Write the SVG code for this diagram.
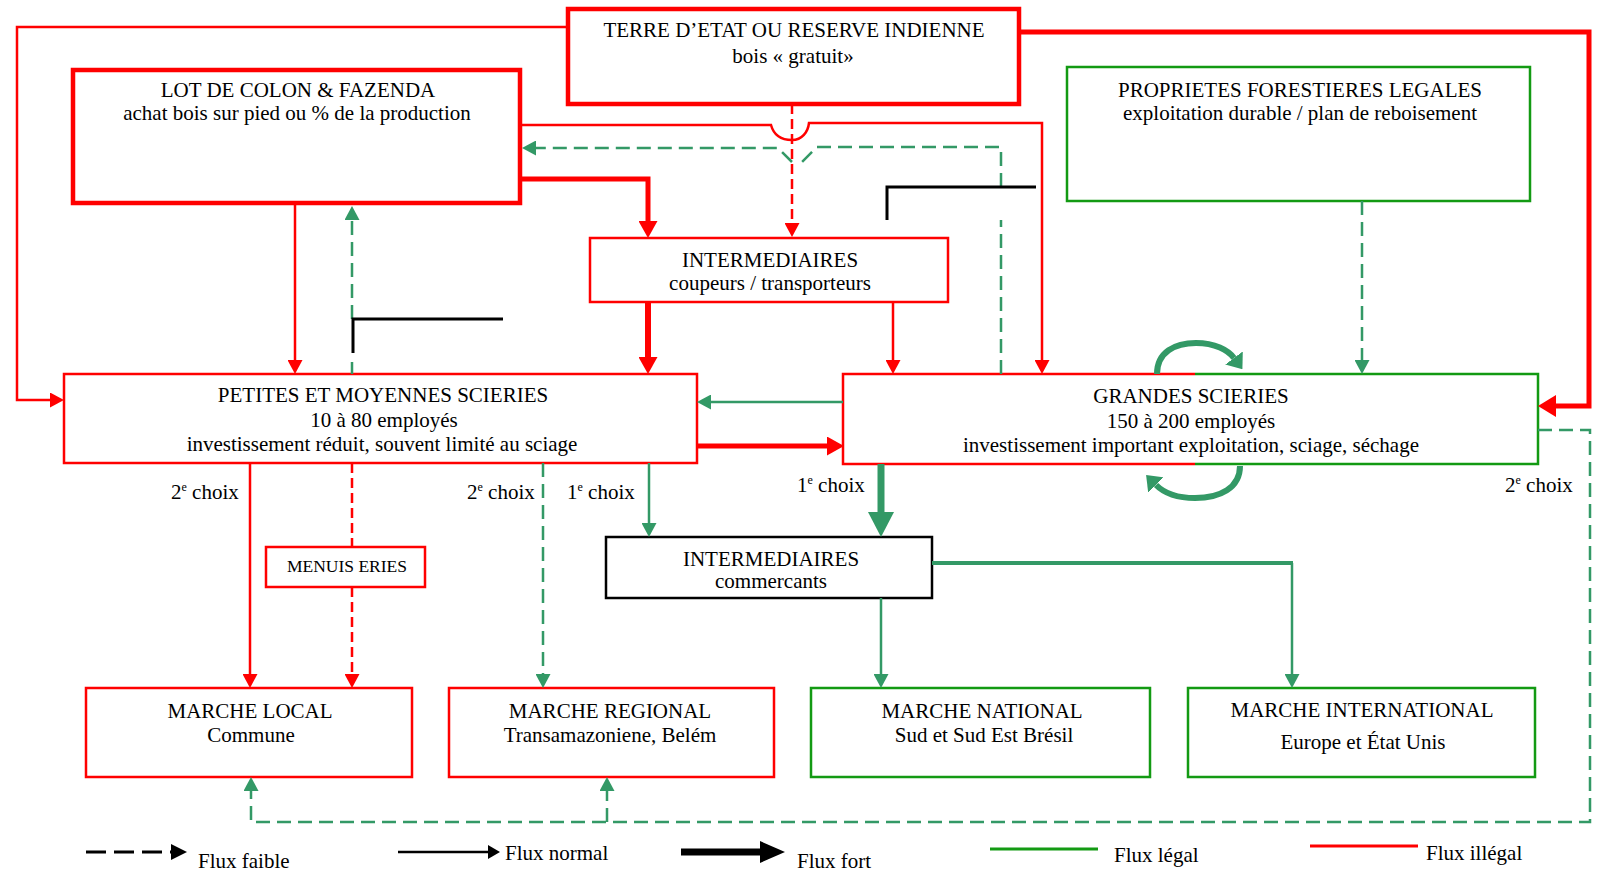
<svg xmlns="http://www.w3.org/2000/svg" width="1600" height="874" viewBox="0 0 1600 874">
<style>
text{font-family:"Liberation Serif","Times New Roman",serif;font-size:21px;fill:#000;text-anchor:middle}
.lft{text-anchor:start}
.box{fill:#fff}
.rb{stroke:#f00;stroke-width:2.5;fill:#fff}
.rbT{stroke:#f00;stroke-width:4.5;fill:#fff}
.gb{stroke:#139a13;stroke-width:2.5;fill:#fff}
.kb{stroke:#000;stroke-width:2.5;fill:#fff}
.c{fill:none}
.r{stroke:#f00;stroke-width:2.5}
.rT{stroke:#f00;stroke-width:5}
.g{stroke:#339966;stroke-width:2.5}
.gT{stroke:#339966;stroke-width:6}
.dr{stroke-dasharray:10,5}
.dg{stroke-dasharray:14,7}
.k{stroke:#000;stroke-width:2.5}
.sup{font-size:12px}
</style>
<defs>
<marker id="ar" viewBox="0 0 14 15" refX="0" refY="7.5" markerWidth="14" markerHeight="15" markerUnits="userSpaceOnUse" orient="auto"><path d="M0,0L14,7.5L0,15z" fill="#f00"/></marker>
<marker id="arT" viewBox="0 0 17 19" refX="0" refY="9.5" markerWidth="17" markerHeight="19" markerUnits="userSpaceOnUse" orient="auto"><path d="M0,0L17,9.5L0,19z" fill="#f00"/></marker>
<marker id="arB" viewBox="0 0 18 22" refX="0" refY="11" markerWidth="18" markerHeight="22" markerUnits="userSpaceOnUse" orient="auto"><path d="M0,0L18,11L0,22z" fill="#f00"/></marker>
<marker id="ag" viewBox="0 0 14 15" refX="0" refY="7.5" markerWidth="14" markerHeight="15" markerUnits="userSpaceOnUse" orient="auto"><path d="M0,0L14,7.5L0,15z" fill="#339966"/></marker>
<marker id="agT" viewBox="0 0 25 26" refX="0" refY="13" markerWidth="25" markerHeight="26" markerUnits="userSpaceOnUse" orient="auto"><path d="M0,0L25,13L0,26z" fill="#339966"/></marker>
<marker id="agL" viewBox="0 0 14 22" refX="0" refY="11" markerWidth="14" markerHeight="22" markerUnits="userSpaceOnUse" orient="auto"><path d="M0,0L14,11L0,22z" fill="#339966"/></marker>
<marker id="ak" viewBox="0 0 12 14" refX="0" refY="7" markerWidth="12" markerHeight="14" markerUnits="userSpaceOnUse" orient="auto"><path d="M0,0L12,7L0,14z" fill="#000"/></marker>
<marker id="akD" viewBox="0 0 16 16" refX="0" refY="8" markerWidth="16" markerHeight="16" markerUnits="userSpaceOnUse" orient="auto"><path d="M0,0L16,8L0,16z" fill="#000"/></marker>
<marker id="akT" viewBox="0 0 25 22" refX="0" refY="11" markerWidth="25" markerHeight="22" markerUnits="userSpaceOnUse" orient="auto"><path d="M0,0L25,11L0,22z" fill="#000"/></marker>
</defs>
<rect width="1600" height="874" fill="#fff"/>

<g id="terre">
<rect class="rbT" x="568" y="9" width="451" height="95"/>
<text x="794" y="37">TERRE D’ETAT OU RESERVE INDIENNE</text>
<text x="793" y="63">bois «  gratuit»</text>
</g>
<g id="lot">
<rect class="rbT" x="73" y="70" width="447" height="133"/>
<text x="298" y="97">LOT DE COLON &amp; FAZENDA</text>
<text x="297" y="120">achat bois sur pied ou % de la production</text>
</g>
<g id="proprietes">
<rect class="gb" x="1067" y="67" width="463" height="134"/>
<text x="1300" y="97">PROPRIETES FORESTIERES LEGALES</text>
<text x="1300" y="120">exploitation durable / plan de reboisement</text>
</g>
<g id="inter-coupeurs">
<rect class="rb" x="590" y="238" width="358" height="64"/>
<text x="770" y="267">INTERMEDIAIRES</text>
<text x="770" y="290">coupeurs / transporteurs</text>
</g>
<g id="petites">
<rect class="rb" x="64" y="374" width="633" height="89"/>
<text x="383" y="402">PETITES ET MOYENNES SCIERIES</text>
<text x="384" y="427">10 à 80 employés</text>
<text x="382" y="451">investissement réduit, souvent limité au sciage</text>
</g>
<g id="grandes">
<rect class="box" x="843" y="374" width="695" height="90"/>
<path class="c" d="M1195,374H843V464H1195" stroke="#f00" stroke-width="2.5"/>
<path class="c" d="M1195,374H1538V464H1195" stroke="#139a13" stroke-width="2.5"/>
<text x="1191" y="403">GRANDES SCIERIES</text>
<text x="1191" y="428">150 à 200 employés</text>
<text x="1191" y="452">investissement important exploitation, sciage, séchage</text>
</g>
<g id="inter-commercants">
<rect class="kb" x="606" y="537" width="326" height="61"/>
<text x="771" y="566">INTERMEDIAIRES</text>
<text x="771" y="588">commercants</text>
</g>
<g id="menuiseries">
<rect class="rb" x="266" y="547" width="159" height="40"/>
<text x="347" y="572" style="font-size:17.5px">MENUIS ERIES</text>
</g>
<g id="marche-local">
<rect class="rb" x="86" y="688" width="326" height="89"/>
<text x="250" y="718">MARCHE LOCAL</text>
<text x="251" y="742">Commune</text>
</g>
<g id="marche-regional">
<rect class="rb" x="449" y="688" width="325" height="89"/>
<text x="610" y="718">MARCHE REGIONAL</text>
<text x="610" y="742">Transamazoniene, Belém</text>
</g>
<g id="marche-national">
<rect class="gb" x="811" y="688" width="339" height="89"/>
<text x="982" y="718">MARCHE NATIONAL</text>
<text x="984" y="742">Sud et Sud Est Brésil</text>
</g>
<g id="marche-international">
<rect class="gb" x="1188" y="688" width="347" height="89"/>
<text x="1362" y="717">MARCHE INTERNATIONAL</text>
<text x="1363" y="749">Europe et État Unis</text>
</g>

<g id="connectors" class="c">
<path class="r c" d="M568,27H17V400H50" marker-end="url(#ar)"/>
<path class="rT c" d="M1019,32H1589V406H1556" marker-end="url(#arB)"/>
<path class="r c dr" d="M792,104V223" marker-end="url(#ar)"/>
<path class="r c" d="M520,125H771C774,136 782,140 792,140C802,140 808,132 809,123H1042V360" marker-end="url(#ar)"/>
<path class="g c dg" d="M1001,374V220M1001,187V147H817L802,162M792,162L778,148H536" marker-end="url(#ag)"/>
<path class="rT c" d="M520,179H648V221" marker-end="url(#arT)"/>
<path class="c" d="M648,302V357" stroke="#f00" stroke-width="6" marker-end="url(#arT)"/>
<path class="r c" d="M893,302V360" marker-end="url(#ar)"/>
<path class="r c" d="M295,203V360" marker-end="url(#ar)"/>
<path class="g c dg" d="M352,374V362M352,319V220" marker-end="url(#ag)"/>
<path class="g c" d="M843,402H711" marker-end="url(#ag)"/>
<path class="rT c" d="M697,446H827" marker-end="url(#arT)"/>
<path class="gT c" d="M1157,374C1157,352 1175,343 1196,343C1215,343 1228,350 1234,358" marker-end="url(#agL)"/>
<path class="gT c" d="M1240,466C1240,488 1220,498 1195,498C1175,498 1163,492 1156,485" marker-end="url(#agL)"/>
<path class="g c" d="M649,463V523" marker-end="url(#ag)"/>
<path class="c" d="M881,464V512" stroke="#339966" stroke-width="7" marker-end="url(#agT)"/>
<path class="g c" d="M881,598V674" marker-end="url(#ag)"/>
<path class="c" d="M932,563H1293" stroke="#339966" stroke-width="4"/>
<path class="g c" d="M1292,563V674" marker-end="url(#ag)"/>
<path class="r c" d="M250,463V674" marker-end="url(#ar)"/>
<path class="r c dr" d="M352,463V547M352,587V674" marker-end="url(#ar)"/>
<path class="g c dg" d="M543,463V674" marker-end="url(#ag)"/>
<path class="g c dg" d="M1538,430H1590V822H251V791" marker-end="url(#ag)"/>
<path class="g c dg" d="M607,822V791" marker-end="url(#ag)"/>
<path class="g c dg" d="M1362,201V360" marker-end="url(#ag)"/>
<path class="c" d="M887,220V187H1036" stroke="#000" stroke-width="3"/>
<path class="c" d="M353,353V319H503" stroke="#000" stroke-width="3"/>
</g>

<g id="labels">
<text class="lft" x="171" y="499">2<tspan class="sup" dy="-8">e</tspan><tspan dy="8"> choix</tspan></text>
<text class="lft" x="467" y="499">2<tspan class="sup" dy="-8">e</tspan><tspan dy="8"> choix</tspan></text>
<text class="lft" x="567" y="499">1<tspan class="sup" dy="-8">e</tspan><tspan dy="8"> choix</tspan></text>
<text class="lft" x="797" y="492">1<tspan class="sup" dy="-8">e</tspan><tspan dy="8"> choix</tspan></text>
<text class="lft" x="1505" y="492">2<tspan class="sup" dy="-8">e</tspan><tspan dy="8"> choix</tspan></text>
</g>

<g id="legend">
<path class="c" d="M86,852H171" stroke="#000" stroke-width="3" stroke-dasharray="20,8" marker-end="url(#akD)"/>
<text class="lft" x="198" y="868">Flux faible</text>
<path class="c" d="M398,852H488" stroke="#000" stroke-width="2.5" marker-end="url(#ak)"/>
<text class="lft" x="505" y="860">Flux normal</text>
<path class="c" d="M681,852H760" stroke="#000" stroke-width="7" marker-end="url(#akT)"/>
<text class="lft" x="797" y="868">Flux fort</text>
<path class="c" d="M990,849H1098" stroke="#139a13" stroke-width="3"/>
<text class="lft" x="1114" y="862">Flux légal</text>
<path class="c" d="M1310,846H1418" stroke="#f00" stroke-width="3"/>
<text class="lft" x="1426" y="860">Flux illégal</text>
</g>
</svg>
